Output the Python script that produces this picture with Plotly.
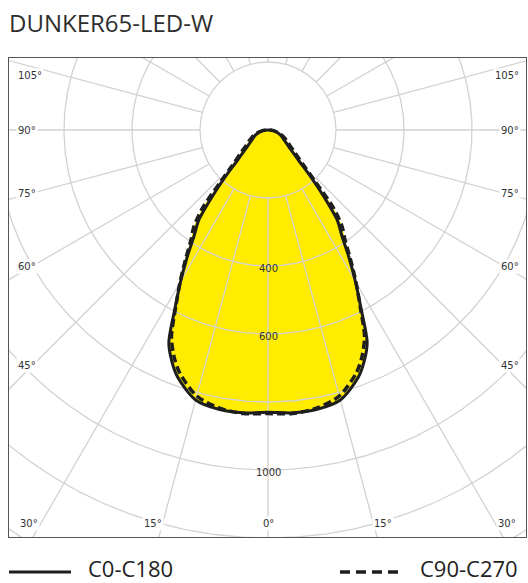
import numpy as np
import plotly.graph_objects as go

# Polar light distribution (cd/klm) against gamma angle, symmetric about nadir
GAMMA = [0, 5, 10, 15, 20, 22.5, 25, 27.5, 30, 32.5, 35, 37.5, 40, 42.5, 45,
         50, 55, 60, 65, 70, 75, 80, 85, 90]
C0_C180 = [830, 835, 834, 822, 775, 738, 690, 593, 514, 442, 378, 335, 255, 185, 130,
           85, 64, 52, 44, 36, 28, 19, 9, 0]
C90_C270 = [834, 837, 830, 810, 760, 722, 672, 588, 518, 452, 395, 358, 300, 205, 152,
            103, 78, 64, 53, 43, 33, 22, 11, 0]

SERIES_NAMES = ["C0-C180", "C90-C270"]
TITLE = "DUNKER65-LED-W"

# Grid: intensity rings and 15° spokes
RING_VALUES = [200, 400, 600, 800, 1000, 1200, 1400, 1600]
RING_LABELS = [400, 600, 1000]
SPOKE_ANGLES = list(range(0, 360, 15))
SIDE_ANGLE_LABELS = [105, 90, 75, 60, 45]
BOTTOM_ANGLE_LABELS = [30, 15, 0, 15, 30]
BOTTOM_ANGLE_SIGNS = [-1, -1, 0, 1, 1]

# ---- geometry / style ----
W, H = 528, 583
ML, MR, MT, MB = 9, 2, 58, 46
CX_PX, CY_PX = 268, 130          # pole position in page pixels
CD_PER_PX = 200 / 68.0
PLOT_W = W - ML - MR
PLOT_H = H - MT - MB
X_RANGE = [-(CX_PX - ML) * CD_PER_PX, (W - MR - CX_PX) * CD_PER_PX]
Y_RANGE = [-(H - MB - CY_PX) * CD_PER_PX, (CY_PX - MT) * CD_PER_PX]

GRID = "#d2d2d2"
INK = "#1e1e1e"
YELLOW = "#ffec00"
LABEL_FONT = dict(family="DejaVu Sans", size=10, color="#333333")


def polar_xy(gamma, r, sign):
    g = np.radians(np.asarray(gamma, dtype=float))
    r = np.asarray(r, dtype=float)
    return sign * r * np.sin(g), -r * np.cos(g)


def closed_curve(values):
    xl, yl = polar_xy(GAMMA[::-1], values[::-1], -1)
    xr, yr = polar_xy(GAMMA[1:], values[1:], 1)
    return np.concatenate([xl, xr]), np.concatenate([yl, yr])


fig = go.Figure()

curves = [closed_curve(C0_C180), closed_curve(C90_C270)]
SMOOTH = 0.8

# yellow fill of both planes
for cx, cy in curves:
    fig.add_trace(go.Scatter(x=cx, y=cy, mode="lines", fill="toself",
                             fillcolor=YELLOW, line=dict(width=0, shape="spline", smoothing=SMOOTH),
                             hoverinfo="skip", showlegend=False))

# rings
t = np.linspace(0, 2 * np.pi, 721)
rx, ry = [], []
for rv in RING_VALUES:
    rx += list(rv * np.sin(t)) + [None]
    ry += list(rv * np.cos(t)) + [None]
fig.add_trace(go.Scatter(x=rx, y=ry, mode="lines", line=dict(color=GRID, width=1.3),
                         hoverinfo="skip", showlegend=False))

# spokes from the first ring outward
sx, sy = [], []
r_in, r_out = RING_VALUES[0], 3000
for a in SPOKE_ANGLES:
    g = np.radians(a)
    sx += [r_in * np.sin(g), r_out * np.sin(g), None]
    sy += [-r_in * np.cos(g), -r_out * np.cos(g), None]
fig.add_trace(go.Scatter(x=sx, y=sy, mode="lines", line=dict(color=GRID, width=1.3),
                         hoverinfo="skip", showlegend=False))

# intensity curves
fig.add_trace(go.Scatter(x=curves[0][0], y=curves[0][1], mode="lines", name=SERIES_NAMES[0],
                         line=dict(color=INK, width=3, shape="spline", smoothing=SMOOTH),
                         showlegend=False))
fig.add_trace(go.Scatter(x=curves[1][0], y=curves[1][1], mode="lines", name=SERIES_NAMES[1],
                         line=dict(color=INK, width=3.5, dash="8px,4px", shape="spline",
                                   smoothing=SMOOTH),
                         showlegend=False))

annotations = []

# ring value labels along the nadir
for rv in RING_LABELS:
    annotations.append(dict(x=0, y=-rv, xref="x", yref="y", text=str(rv), showarrow=False,
                            font=LABEL_FONT, yshift=-2))

# side angle labels: placed where each spoke meets the side band, kept inside the frame
band_x = 694
top_limit = Y_RANGE[1] - 17 * CD_PER_PX
for a in SIDE_ANGLE_LABELS:
    g = np.radians(a)
    yv = -band_x / np.tan(g) if a != 90 else 0.0
    yv = min(yv, top_limit)
    annotations.append(dict(x=X_RANGE[0] + 7 * CD_PER_PX, y=yv, xref="x", yref="y",
                            text=f"{a}°", showarrow=False, xanchor="left",
                            font=LABEL_FONT, bgcolor="white", borderpad=1))
    annotations.append(dict(x=X_RANGE[1] - 5 * CD_PER_PX, y=yv, xref="x", yref="y",
                            text=f"{a}°", showarrow=False, xanchor="right",
                            font=LABEL_FONT, bgcolor="white", borderpad=1))

# bottom angle labels
depth = 1260
side_limit = 703
y_bottom = Y_RANGE[0] + 14 * CD_PER_PX
for a, s in zip(BOTTOM_ANGLE_LABELS, BOTTOM_ANGLE_SIGNS):
    xv = s * min(depth * np.tan(np.radians(a)), side_limit)
    annotations.append(dict(x=xv, y=y_bottom, xref="x", yref="y", text=f"{a}°",
                            showarrow=False, font=LABEL_FONT, bgcolor="white", borderpad=1))


# legend row below the frame
def px_to_paper_x(px):
    return (px - ML) / PLOT_W


def px_to_paper_y(py):
    return (H - MB - py) / PLOT_H


legend_y = px_to_paper_y(572)
shapes = [
    dict(type="line", xref="paper", yref="paper", x0=px_to_paper_x(9), x1=px_to_paper_x(71),
         y0=legend_y, y1=legend_y, line=dict(color=INK, width=3)),
    dict(type="line", xref="paper", yref="paper", x0=px_to_paper_x(340), x1=px_to_paper_x(401),
         y0=legend_y, y1=legend_y, line=dict(color=INK, width=3.3, dash="10px,6px")),
]
legend_font = dict(family="Open Sans", size=22, color="#222222")
text_y = px_to_paper_y(567.5)
annotations.append(dict(x=px_to_paper_x(87), y=text_y, xref="paper", yref="paper",
                        text=SERIES_NAMES[0], showarrow=False, xanchor="left", yanchor="middle",
                        font=legend_font, borderpad=0))
annotations.append(dict(x=px_to_paper_x(419), y=text_y, xref="paper", yref="paper",
                        text=SERIES_NAMES[1], showarrow=False, xanchor="left", yanchor="middle",
                        font=legend_font, borderpad=0))

axis_common = dict(showgrid=False, zeroline=False, showticklabels=False, ticks="",
                   showline=True, mirror=True, linecolor="#555555", linewidth=1, fixedrange=True)

fig.update_layout(
    width=W, height=H,
    margin=dict(l=ML, r=MR, t=MT, b=MB, pad=0),
    paper_bgcolor="white", plot_bgcolor="white",
    title=dict(text=TITLE, x=9 / W, xref="container", xanchor="left",
               y=1 - 24 / H, yref="container", yanchor="middle",
               font=dict(family="Open Sans", size=24, color="#2e2e2e")),
    xaxis=dict(range=X_RANGE, **axis_common),
    yaxis=dict(range=Y_RANGE, **axis_common),
    annotations=annotations,
    shapes=shapes,
    showlegend=False,
)

fig.write_html("out.html")
